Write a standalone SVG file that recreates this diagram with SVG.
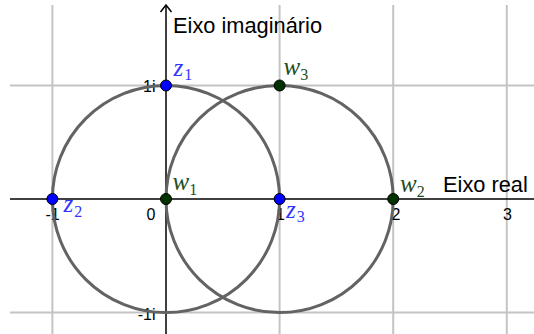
<svg xmlns="http://www.w3.org/2000/svg" width="534" height="334" viewBox="0 0 534 334">
  <style>
    .grid { stroke: #c4c4c4; stroke-width: 2; fill: none; }
    .axis { stroke: #000; stroke-width: 1.5; fill: none; }
    .circ { stroke: #636363; stroke-width: 3; fill: none; }
    .tick { font-family: "Liberation Sans", Arial, sans-serif; font-size: 16px; fill: #000; }
    .axlab { font-family: "Liberation Sans", Arial, sans-serif; font-size: 21.8px; fill: #000; }
    .ptb { fill: #0000ff; stroke: #000; stroke-width: 1; }
    .ptg { fill: #003300; stroke: #000; stroke-width: 1; }
    .m { font-family: "Liberation Serif", "Times New Roman", serif; font-style: italic; font-size: 25px; }
    .sub { font-family: "Liberation Serif", "Times New Roman", serif; font-size: 16px; }
    .lb { fill: #3333ff; }
    .lg { fill: #1e4d1e; }
  </style>
  <rect width="534" height="334" fill="#ffffff"/>
  <g id="grid">
    <line class="grid" x1="52.4" y1="5" x2="52.4" y2="334"/>
    <line class="grid" x1="279.6" y1="5" x2="279.6" y2="334"/>
    <line class="grid" x1="393.2" y1="5" x2="393.2" y2="334"/>
    <line class="grid" x1="506.8" y1="5" x2="506.8" y2="334"/>
    <line class="grid" x1="10" y1="85.5" x2="534" y2="85.5"/>
    <line class="grid" x1="10" y1="312.5" x2="534" y2="312.5"/>
  </g>
  <g id="axes">
    <line class="axis" x1="10" y1="199" x2="534" y2="199"/>
    <line class="axis" x1="166" y1="5" x2="166" y2="334"/>
    <polyline class="axis" points="160.5,12 166,5 171.5,12"/>
    <text class="axlab" x="173" y="33">Eixo imaginário</text>
    <text class="axlab" x="443" y="191.5">Eixo real</text>
    <text class="tick" x="52.5" y="220" text-anchor="middle">-1</text>
    <text class="tick" x="155.5" y="220" text-anchor="end">0</text>
    <text class="tick" x="280.5" y="220" text-anchor="middle">1</text>
    <text class="tick" x="396" y="220" text-anchor="middle">2</text>
    <text class="tick" x="507.5" y="220" text-anchor="middle">3</text>
    <text class="tick" x="155.5" y="91.5" text-anchor="end">1i</text>
    <text class="tick" x="155.5" y="320" text-anchor="end">-1i</text>
  </g>
  <g id="connectors">
    <circle class="circ" cx="166" cy="199" r="113.6"/>
    <circle class="circ" cx="279.6" cy="199" r="113.6"/>
  </g>
  <g id="z1">
    <circle class="ptb" cx="166" cy="85.5" r="5.5"/>
    <text class="lb" x="173.5" y="75.5"><tspan class="m">z</tspan><tspan class="sub" dx="1" dy="4.5">1</tspan></text>
  </g>
  <g id="z2">
    <circle class="ptb" cx="52.4" cy="199" r="5.5"/>
    <text class="lb" x="63.5" y="211.5"><tspan class="m">z</tspan><tspan class="sub" dx="1" dy="5">2</tspan></text>
  </g>
  <g id="z3">
    <circle class="ptb" cx="279.6" cy="199" r="5.5"/>
    <text class="lb" x="286" y="218"><tspan class="m">z</tspan><tspan class="sub" dx="1" dy="4">3</tspan></text>
  </g>
  <g id="w1">
    <circle class="ptg" cx="166" cy="199" r="5.5"/>
    <text class="lg" x="172.5" y="189.5"><tspan class="m">w</tspan><tspan class="sub" dy="5">1</tspan></text>
  </g>
  <g id="w2">
    <circle class="ptg" cx="393.2" cy="199" r="5.5"/>
    <text class="lg" x="400" y="191.5"><tspan class="m">w</tspan><tspan class="sub" dy="5.5">2</tspan></text>
  </g>
  <g id="w3">
    <circle class="ptg" cx="279.6" cy="85.5" r="5.5"/>
    <text class="lg" x="283.5" y="75"><tspan class="m">w</tspan><tspan class="sub" dy="5">3</tspan></text>
  </g>
</svg>
